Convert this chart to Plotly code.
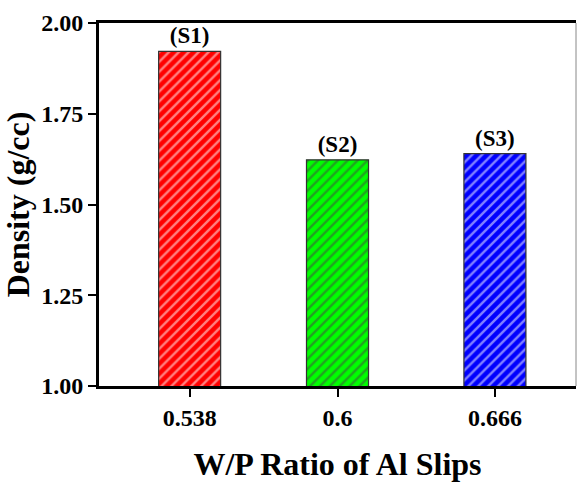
import plotly.graph_objects as go

# Data
wp_ratio = [0.538, 0.6, 0.666]
tick_labels = ["0.538", "0.6", "0.666"]
density = [1.922, 1.623, 1.640]
sample_labels = ["(S1)", "(S2)", "(S3)"]
bar_colors = ["#FF0000", "#00FF00", "#0000FF"]
y_ticks = [1.00, 1.25, 1.50, 1.75, 2.00]

FONT = "Liberation Serif, Times New Roman, serif"

fig = go.Figure()
fig.add_trace(go.Bar(
    x=wp_ratio,
    y=density,
    width=0.026,
    text=sample_labels,
    textposition="outside",
    textfont=dict(family=FONT, size=23, color="black", weight="bold"),
    cliponaxis=False,
    marker=dict(
        color=bar_colors,
        line=dict(color="#333333", width=1.2),
        pattern=dict(shape="/", fgcolor="white", bgcolor=bar_colors,
                     size=7, solidity=0.35, fillmode="overlay"),
    ),
    showlegend=False,
))

fig.update_layout(
    width=577, height=482,
    margin=dict(l=99, r=1, t=23, b=85),
    paper_bgcolor="white",
    plot_bgcolor="white",
    font=dict(family=FONT, color="black"),
    xaxis=dict(
        range=[0.5, 0.7],
        tickvals=wp_ratio,
        ticktext=tick_labels,
        tickfont=dict(family=FONT, size=24, color="black", weight="bold"),
        showgrid=False, zeroline=False,
        showline=True, linecolor="black", linewidth=3, mirror=True,
        ticks="outside", ticklen=8, tickwidth=2, tickcolor="black",
        title=dict(text="W/P Ratio of Al Slips",
                   font=dict(family=FONT, size=32, color="black", weight="bold"),
                   standoff=28),
    ),
    yaxis=dict(
        range=[1.0, 2.0],
        tickvals=y_ticks,
        tickformat=".2f",
        tickfont=dict(family=FONT, size=24, color="black", weight="bold"),
        showgrid=False, zeroline=False,
        showline=True, linecolor="black", linewidth=3, mirror=False,
        ticks="outside", ticklen=8, tickwidth=2, tickcolor="black",
        title=dict(text="Density (g/cc)",
                   font=dict(family=FONT, size=32, color="black", weight="bold"),
                   standoff=10),
    ),
    shapes=[dict(type="line", xref="paper", yref="paper", x0=1, x1=1, y0=0, y1=1,
                 line=dict(color="#888888", width=1))],
)

fig.write_html("out.html")
